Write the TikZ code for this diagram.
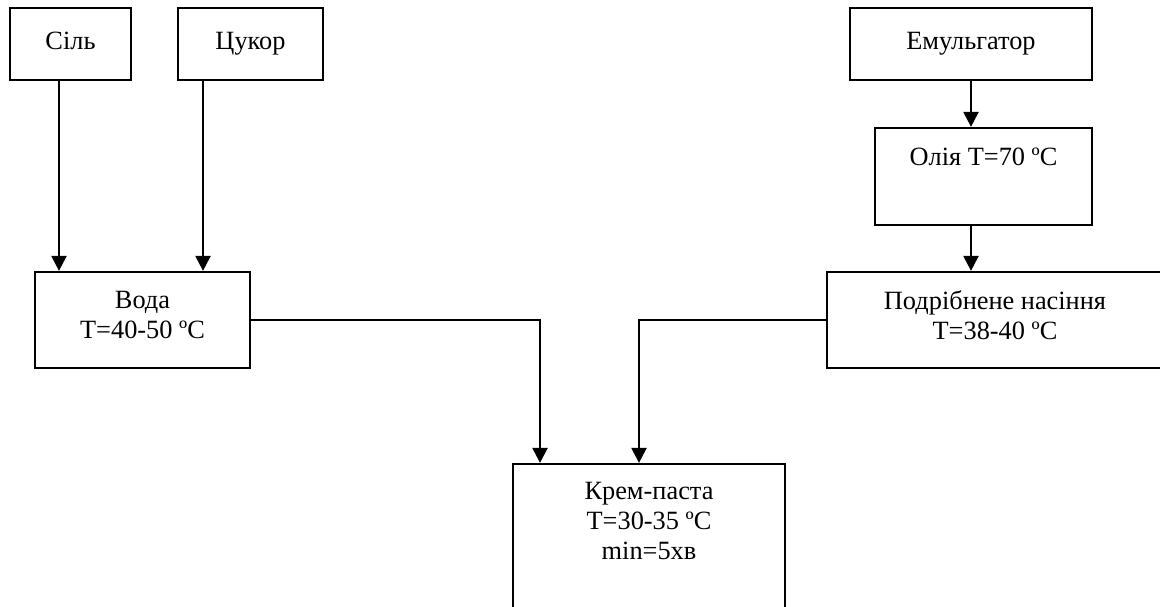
\documentclass[tikz,border=0pt]{standalone}
\usepackage{fontspec}
\setmainfont{Liberation Serif}
\usetikzlibrary{arrows.meta}

\tikzset{
  box/.style={draw, line width=1.3pt, align=center, inner sep=0pt,
    font=\fontsize{15}{17}\selectfont},
  arr/.style={line width=1.3pt, -{Triangle[length=8.5pt, width=8.5pt]}}
}

\begin{document}
\begin{tikzpicture}[x=0.02cm, y=-0.02cm]
        \clip (0,0) rectangle (1160,606);
        \def \hs {1.44cm}
        \def \hb {1.92cm}

        % inputs
        \node[box, minimum width=2.42cm, minimum height=\hs] at (70.5,44) (sil) {\strut Сіль};
        \node[box, minimum width=2.90cm, minimum height=\hs] at (250.5,44) (cukor) {\strut Цукор};
        \node[box, minimum width=4.84cm, minimum height=\hs] at (971,44) (emul) {\strut Емульгатор};
        \node[box, minimum width=4.34cm, minimum height=1.94cm] at (983.5,176.5) (olia) {Олія T=70 ºC\\ \strut};

        \node[box, minimum width=4.30cm, minimum height=\hb] at (142.5,320) (voda) {Вода\\T=40-50 ºC\rule[-6pt]{0pt}{6pt}};
        \node[box, minimum width=6.72cm, minimum height=\hb] at (995,320) (pod) {Подрібнене насіння\\T=38-40 ºC\rule[-6pt]{0pt}{6pt}};
        \node[box, minimum width=5.44cm, minimum height=3.04cm] at (649,540) (krem) {Крем-паста\\T=30-35 ºC\\min=5хв\\ \strut};

        \draw[arr] ([xshift=-0.23cm]sil.south) coordinate (s1) -- (s1 |- voda.north);
        \draw[arr] ([xshift=-0.95cm]cukor.south) coordinate (s2) -- (s2 |- voda.north);
        \draw[arr] (emul.south) -- (emul.south |- olia.north);
        \draw[arr] (olia.south -| emul.south) -- (emul.south |- pod.north);

        % to the cream
        \draw[arr] (voda.east) -| ([xshift=-2.18cm]krem.north);
        \draw[arr] (pod.west) -| ([xshift=-0.2cm]krem.north);
        \end{tikzpicture}
\end{document}
